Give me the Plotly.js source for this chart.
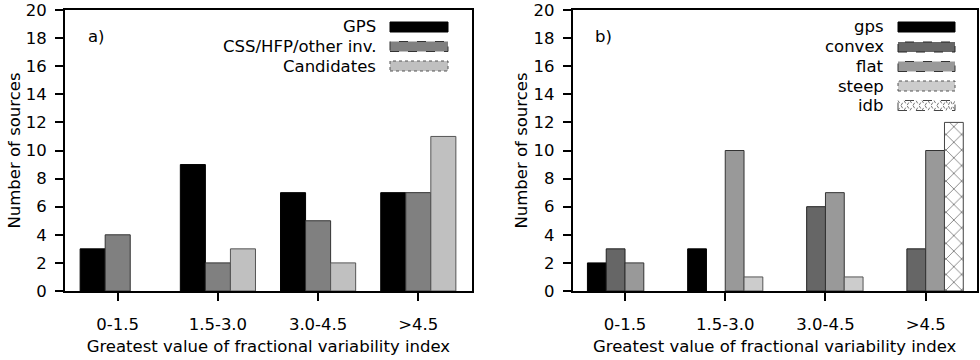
<!DOCTYPE html>
<html>
<head>
<meta charset="utf-8">
<script src="https://cdn.plot.ly/plotly-3.0.1.min.js"></script>
<style>html,body{margin:0;padding:0;background:#fff}</style>
</head>
<body>
<div id="chart" style="width:980px;height:360px"></div>
<script>
// data
const categories = ['0-1.5', '1.5-3.0', '3.0-4.5', '>4.5'];
const gpsA = [3, 9, 7, 7];
const cssA = [4, 2, 5, 7];
const candA = [0, 3, 2, 11];
const gpsB = [2, 3, 0, 0];
const convexB = [3, 0, 6, 3];
const flatB = [2, 10, 7, 10];
const steepB = [0, 1, 1, 0];
const idbB = [0, 0, 0, 12];

const W = 980, H = 360;
const px = x => x / W;
const py = y => 1 - y / H;
const FONT = { family: 'DejaVu Sans, Liberation Sans, sans-serif', size: 16.5, color: '#000' };

// panel series: name, values, fill, outline, dash (for key sample), slot
const seriesA = [
    { name: 'GPS', y: gpsA, fill: '#000000', line: '#000000', dash: 'solid', slot: 'a1' },
    { name: 'CSS/HFP/other inv.', y: cssA, fill: '#808080', line: '#333333', dash: 'dash', slot: 'a2' },
    { name: 'Candidates', y: candA, fill: '#c0c0c0', line: '#555555', dash: 'dot', slot: 'a3' },
];
const seriesB = [
    { name: 'gps', y: gpsB, fill: '#000000', line: '#000000', dash: 'solid', slot: 'b1' },
    { name: 'convex', y: convexB, fill: '#666666', line: '#222222', dash: 'dash', slot: 'b2' },
    { name: 'flat', y: flatB, fill: '#999999', line: '#333333', dash: 'dash', slot: 'b3' },
    { name: 'steep', y: steepB, fill: '#cccccc', line: '#555555', dash: 'dot', slot: 'b4' },
    { name: 'idb', y: idbB, fill: '#ffffff', line: '#444444', dash: 'dash', slot: 'b4', hatch: true },
];

const traces = [];
function addBars(series, xa, ya) {
    series.forEach(s => {
        const marker = { color: s.fill, line: { color: s.line, width: 1 } };
        if (s.hatch) {
            marker.pattern = { shape: 'x', fgcolor: '#555', bgcolor: '#fff', size: 11, solidity: 0.12 };
        }
        traces.push({
            type: 'bar', x: categories,
            y: s.y.map(v => v === 0 ? null : v), // empty bins are not drawn
            name: s.name, xaxis: xa, yaxis: ya, offsetgroup: s.slot,
            marker: marker, showlegend: false, hoverinfo: 'x+y+name',
        });
    });
}
addBars(seriesA, 'x', 'y');
addBars(seriesB, 'x2', 'y2');

// hand-built key (text left of the sample, as in the original)
const shapes = [];
const annotations = [];
function addKey(series, textRight, x0, x1, rows) {
    series.forEach((s, i) => {
        const yc = rows[i];
        annotations.push({
            xref: 'paper', yref: 'paper', x: px(textRight), y: py(yc),
            xanchor: 'right', yanchor: 'middle', text: s.name, showarrow: false, font: FONT,
        });
        shapes.push({
            type: 'rect', xref: 'paper', yref: 'paper',
            x0: px(x0), x1: px(x1), y0: py(yc + 5), y1: py(yc - 5),
            fillcolor: s.fill, line: { color: s.line, width: 1, dash: s.dash },
        });
        if (s.hatch) {
            let d = '';
            for (let x = x0; x < x1 - 1; x += 12) {
                const xe = Math.min(x + 12, x1);
                d += `M${px(x)},${py(yc + 5)} L${px((x + xe) / 2)},${py(yc - 5)} L${px(xe)},${py(yc + 5)} `;
                d += `M${px(x)},${py(yc - 5)} L${px((x + xe) / 2)},${py(yc + 5)} L${px(xe)},${py(yc - 5)} `;
            }
            shapes.push({ type: 'path', xref: 'paper', yref: 'paper', path: d, line: { color: '#777', width: 1, dash: 'dot' } });
        }
    });
}
addKey(seriesA, 378, 390, 448, [27, 46.5, 66]);
addKey(seriesB, 886, 898, 955, [27, 47, 66.5, 86, 105.5]);

annotations.push({ xref: 'paper', yref: 'paper', x: px(86), y: py(37), xanchor: 'left', yanchor: 'middle', text: 'a)', showarrow: false, font: FONT });
annotations.push({ xref: 'paper', yref: 'paper', x: px(593), y: py(37), xanchor: 'left', yanchor: 'middle', text: 'b)', showarrow: false, font: FONT });

const xAxisBase = {
    type: 'category', showline: true, mirror: true, linecolor: '#000', linewidth: 2,
    ticks: 'outside', ticklen: 8, tickwidth: 2, tickcolor: '#000', ticklabelstandoff: 9,
    showgrid: false, zeroline: false, tickfont: FONT, automargin: false,
    title: { text: 'Greatest value of fractional variability index', font: FONT, standoff: 8 },
};
const yAxisBase = {
    range: [0, 20], dtick: 2, showline: true, mirror: true, linecolor: '#000', linewidth: 2,
    ticks: 'outside', ticklen: 8, tickwidth: 2, tickcolor: '#000', ticklabelstandoff: 5,
    ticklabeloverflow: 'allow',
    showgrid: false, zeroline: false, tickfont: FONT, automargin: false,
    domain: [py(291), py(10)],
    title: { text: 'Number of sources', font: FONT },
};

Plotly.newPlot('chart', traces, {
    width: W, height: H,
    margin: { l: 0, r: 0, t: 0, b: 0 },
    barmode: 'group', bargap: 0.25, bargroupgap: 0,
    paper_bgcolor: '#fff', plot_bgcolor: '#fff',
    font: FONT,
    xaxis: Object.assign({}, xAxisBase, { domain: [px(65), px(471.7)], range: [-0.526, 3.533], anchor: 'y' }),
    yaxis: Object.assign({}, yAxisBase, { anchor: 'x' }),
    xaxis2: Object.assign({}, xAxisBase, { domain: [px(572.7), px(976.7)], range: [-0.522, 3.509], anchor: 'y2' }),
    yaxis2: Object.assign({}, yAxisBase, { anchor: 'x2' }),
    shapes: shapes,
    annotations: annotations,
    showlegend: false,
}, { displayModeBar: false, staticPlot: true });
</script>
</body>
</html>
